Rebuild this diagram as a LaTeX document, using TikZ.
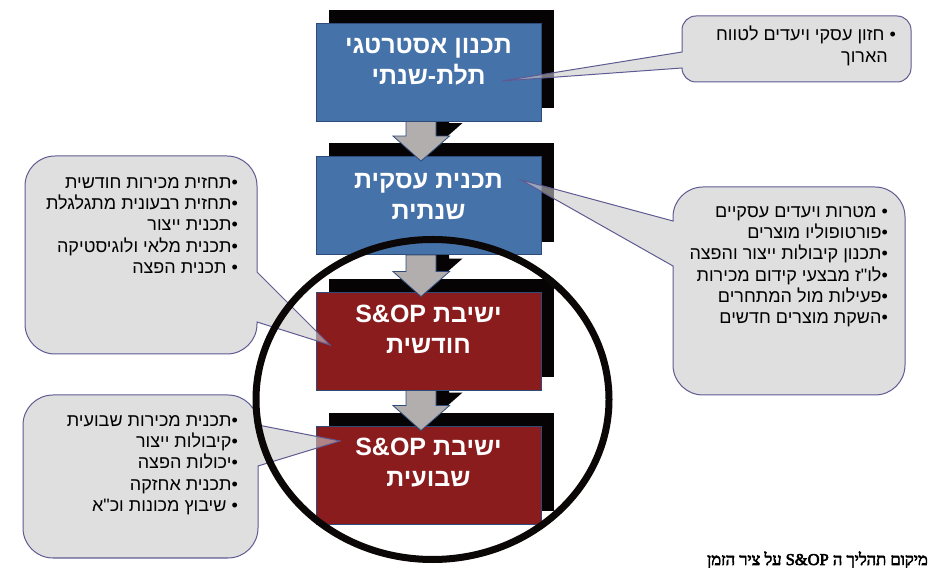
\documentclass[tikz,border=0pt]{standalone}
\usepackage{fontspec}
\setmainfont{Liberation Sans}
\newfontfamily\hebsans[Script=Hebrew]{Liberation Sans}
\newfontfamily\capfont[Script=Hebrew,FakeBold=3.5]{Liberation Serif}
\TeXXeTstate=1
\usetikzlibrary{calc}
\pgfdeclarelayer{shadowlayer}
\pgfsetlayers{shadowlayer,main}
\newcommand\rl[1]{\beginR #1\endR}
\newcommand\lr[1]{\beginL #1\endL{}}
\newcommand\bul{•\kern0pt\relax}
\definecolor{boxblue}{HTML}{4672AA}
\definecolor{boxred}{HTML}{8B1C1E}
\definecolor{boxedge}{HTML}{2F4B7A}
\definecolor{arrowgray}{HTML}{B2AEAE}
\definecolor{shadowblack}{HTML}{050303}
\definecolor{calloutedge}{HTML}{5E5A92}
\definecolor{calloutfill}{RGB}{203,201,201}
\definecolor{circleblack}{HTML}{0A0706}
\newcommand\blockarrow[4]{%
  \path[#1] ($(#2)+(-15,0)+(#4,#4)$) -- ($(#2)+(15,0)+(#4,#4)$) -- ($(#3)+(15,25)+(#4,#4)$)
    -- ($(#3)+(28.5,25)+(#4,#4)$) -- ($(#3)+(#4,#4)$) -- ($(#3)+(-28,25)+(#4,#4)$)
    -- ($(#3)+(-15,25)+(#4,#4)$) -- cycle;}
\tikzset{
  box/.style={minimum width=225pt, minimum height=98pt, inner sep=0pt, draw=boxedge, line width=0.9pt},
  bluebox/.style={box, fill=boxblue},
  redbox/.style={box, fill=boxred},
  boxtext/.style={text=white, font=\hebsans\bfseries\fontsize{25}{31}\selectfont, align=center, inner sep=0pt},
  calloutshape/.style={draw=calloutedge, line width=1pt, fill=calloutfill, fill opacity=0.6, draw opacity=1, line join=miter},
  callouttext/.style={font=\hebsans\fontsize{18}{21.3}\selectfont, align=right, inner sep=0pt, anchor=north east, text=black},
  arrowbody/.style={fill=arrowgray, draw=boxedge, line width=0.8pt, line join=miter},
  shadowfill/.style={fill=shadowblack},
  captiontext/.style={font=\capfont\fontsize{16.5}{19}\selectfont, anchor=base east, inner sep=0pt, text=black}
}
\begin{document}
\begin{tikzpicture}[x=1pt,y=1pt]
\useasboundingbox (0,0) rectangle (928,567);
% boxes
\node[bluebox] (b1) at (428.5,495) {};
\node[bluebox] (b2) at (428.5,361.5) {};
\node[redbox] (b3) at (428.5,226) {};
\node[redbox] (b4) at (428.5,92) {};
\coordinate (a1s) at ($(b1.south)+(-7.5,0)$);
\coordinate (a1t) at ($(b2.north)+(-7.5,-5)$);
\coordinate (a2s) at ($(b2.south)+(-7.5,0)$);
\coordinate (a2t) at ($(b3.north)+(-7.5,-5)$);
\coordinate (a3s) at ($(b3.south)+(-7.5,0)$);
\coordinate (a3t) at ($(b4.north)+(-7.5,-5)$);
\begin{pgfonlayer}{shadowlayer}
  \foreach \b in {b1,b2,b3,b4}
    \fill[shadowfill] ($(\b.south west)+(13,13)$) rectangle ($(\b.north east)+(13,13)$);
  \blockarrow{shadowfill}{a1s}{a1t}{13}
  \blockarrow{shadowfill}{a2s}{a2t}{13}
  \blockarrow{shadowfill}{a3s}{a3t}{13}
\end{pgfonlayer}
% arrows
\blockarrow{arrowbody}{a1s}{a1t}{0}
\blockarrow{arrowbody}{a2s}{a2t}{0}
\blockarrow{arrowbody}{a3s}{a3t}{0}
% box texts
\node[boxtext] (t1) at ($(b1.center)+(0,10)$) {\rl{תכנון אסטרטגי}\\\rl{תלת-שנתי}};
\node[boxtext] (t2) at ($(b2.center)+(0,9.5)$) {\rl{תכנית עסקית}\\\rl{שנתית}};
\node[boxtext] (t3) at ($(b3.center)+(0,12)$) {\rl{ישיבת \lr{S\&OP}}\\\rl{חודשית}};
\node[boxtext] (t4) at ($(b4.center)+(0,12)$) {\rl{ישיבת \lr{S\&OP}}\\\rl{שבועית}};
% callout shapes
\path[calloutshape] (696,551) -- (897,551) arc[start angle=90,end angle=0,radius=14]
  -- (911,499) arc[start angle=0,end angle=-90,radius=14]
  -- (696,485) arc[start angle=270,end angle=180,radius=14]
  -- (502,486) -- (682,515) -- (682,537) arc[start angle=180,end angle=90,radius=14] -- cycle;
\path[calloutshape] (703,380) -- (875,380) arc[start angle=90,end angle=0,radius=30]
  -- (905,202) arc[start angle=0,end angle=-90,radius=30]
  -- (703,172) arc[start angle=270,end angle=180,radius=30]
  -- (673,301) -- (521,387) -- (673,346) -- (673,350) arc[start angle=180,end angle=90,radius=30] -- cycle;
\path[calloutshape] (55,411) -- (227,411) arc[start angle=90,end angle=0,radius=30]
  -- (257,295) -- (330,222) -- (257,245) -- (257,243) arc[start angle=0,end angle=-90,radius=30]
  -- (55,213) arc[start angle=270,end angle=180,radius=30]
  -- (25,381) arc[start angle=180,end angle=90,radius=30] -- cycle;
\path[calloutshape] (53,172) -- (228,172) arc[start angle=90,end angle=0,radius=30]
  -- (340,126) -- (258,101) -- (258,39) arc[start angle=0,end angle=-90,radius=30]
  -- (53,9) arc[start angle=270,end angle=180,radius=30]
  -- (23,142) arc[start angle=180,end angle=90,radius=30] -- cycle;
% circle
\draw[line width=7pt, draw=circleblack] (432.5,167.5) ellipse [x radius=176.5, y radius=160];
% callout texts
\node[callouttext] (ca) at (896,541) {\rl{•\ חזון עסקי ויעדים לטווח}\\\rl{\rule{8pt}{0pt}הארוך}};
\node[callouttext] (cb) at (888,361) {\rl{•\ מטרות ויעדים עסקיים}\\
  \rl{\bul פורטופוליו מוצרים}\\
  \rl{\bul תכנון קיבולות ייצור והפצה}\\
  \rl{\bul לו"ז מבצעי קידום מכירות}\\
  \rl{\bul פעילות מול המתחרים}\\
  \rl{\bul השקת מוצרים חדשים}};
\node[callouttext] (cc) at (238,390) {\rl{\bul תחזית מכירות חודשית}\\
  \rl{\bul תחזית רבעונית מתגלגלת}\\
  \rl{\bul תכנית ייצור}\\
  \rl{\bul תכנית מלאי ולוגיסטיקה}\\
  \rl{•\ תכנית הפצה}};
\node[callouttext] (cd) at (238,152) {\rl{\bul תכנית מכירות שבועית}\\
  \rl{\bul קיבולות ייצור}\\
  \rl{\bul יכולות הפצה}\\
  \rl{\bul תכנית אחזקה}\\
  \rl{•\ שיבוץ מכונות וכ"א}};
% caption
\node[captiontext] (cap) at (928,2) {\rl{מיקום תהליך ה \lr{S\&OP} על ציר הזמן}};
\end{tikzpicture}
\end{document}
